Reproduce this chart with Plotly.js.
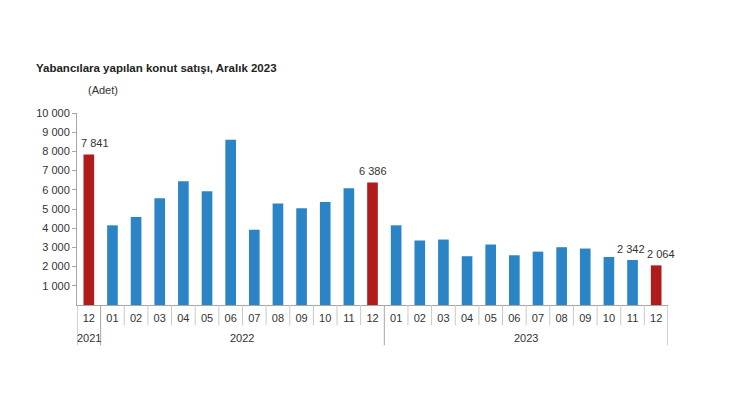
<!DOCTYPE html>
<html>
<head>
<meta charset="utf-8">
<script src="https://cdn.plot.ly/plotly-3.0.1.min.js"></script>
<style>
  html, body { margin: 0; padding: 0; background: #fff; }
  #chart { width: 730px; height: 420px; }
</style>
</head>
<body>
<div id="chart"></div>
<script>
// Foreign housing sales, monthly (Adet)
const years = ['2021',
  '2022', '2022', '2022', '2022', '2022', '2022', '2022', '2022', '2022', '2022', '2022', '2022',
  '2023', '2023', '2023', '2023', '2023', '2023', '2023', '2023', '2023', '2023', '2023', '2023'];
const months = ['12',
  '01', '02', '03', '04', '05', '06', '07', '08', '09', '10', '11', '12',
  '01', '02', '03', '04', '05', '06', '07', '08', '09', '10', '11', '12'];
const sales = [7841,
  4150, 4580, 5560, 6450, 5930, 8610, 3920, 5290, 5040, 5360, 6080, 6386,
  4150, 3360, 3410, 2540, 3150, 2590, 2780, 3010, 2940, 2500, 2342, 2064];
// bars that carry a value label
const labelled = [0, 12, 23, 24];
const yTicks = [1000, 2000, 3000, 4000, 5000, 6000, 7000, 8000, 9000, 10000];

const BLUE = '#2b84c6';
const RED = '#b01c1c';
const AXIS = '#a6a6a6';
const FONT = 'Liberation Sans, Arial, sans-serif';
// small sideways nudges so neighbouring labels don't collide
const LABEL_NUDGE = { 0: 6, 12: 0, 23: -2, 24: 5 };

const keys = years.map((y, i) => y + '-' + months[i]);
const colors = months.map(m => m === '12' ? RED : BLUE);
const fmt = v => String(v).replace(/\B(?=(\d{3})+(?!\d))/g, ' ');

// two-level x axis: short separators between months, long ones between years
const shapes = [];
for (let i = 0; i <= keys.length; i++) {
  const yearEdge = i === 0 || i === keys.length || years[i] !== years[i - 1];
  shapes.push({
    type: 'line', xref: 'x', yref: 'paper',
    x0: i - 0.5, x1: i - 0.5, y0: 0, y1: yearEdge ? -0.21 : -0.105,
    line: { color: yearEdge ? AXIS : '#c8c8c8', width: 1 },
  });
}

// year labels centred under their group of months
const yearNames = [...new Set(years)];
const annotations = yearNames.map(y => {
  const first = years.indexOf(y), last = years.lastIndexOf(y);
  return {
    text: y, xref: 'x', yref: 'paper', x: (first + last) / 2, y: 0,
    yanchor: 'middle', yshift: -33, showarrow: false,
    font: { size: 11, color: '#333' },
  };
});

// value labels above the highlighted bars
labelled.forEach(i => {
  annotations.push({
    text: fmt(sales[i]), xref: 'x', yref: 'y', x: keys[i], y: sales[i],
    yanchor: 'bottom', yshift: 3, xshift: LABEL_NUDGE[i] || 0, showarrow: false,
    font: { size: 11, color: '#333' },
  });
});

annotations.push(
  { text: '<b>Yabancılara yapılan konut satışı, Aralık 2023</b>', xref: 'paper', yref: 'paper',
    x: -0.072, y: 1.0, xanchor: 'left', yanchor: 'bottom', yshift: 37, showarrow: false,
    font: { size: 11.5, color: '#222' } },
  { text: '(Adet)', xref: 'paper', yref: 'paper',
    x: 0.015, y: 1.0, xanchor: 'left', yanchor: 'bottom', yshift: 15, showarrow: false,
    font: { size: 11, color: '#333' } }
);

const trace = {
  type: 'bar',
  x: keys,
  y: sales,
  marker: { color: colors },
  hoverinfo: 'y',
};

const layout = {
  width: 730, height: 420,
  margin: { l: 77, r: 62, t: 113, b: 115 },
  paper_bgcolor: '#fff', plot_bgcolor: '#fff',
  font: { family: FONT, size: 11, color: '#333' },
  separators: ', ',
  bargap: 0.55,
  showlegend: false,
  xaxis: {
    type: 'category',
    range: [-0.5, keys.length - 0.5],
    tickvals: keys, ticktext: months,
    showline: true, linecolor: AXIS, linewidth: 1,
    ticks: '', ticklabelstandoff: 3,
    tickfont: { size: 11, color: '#333' },
    showgrid: false, zeroline: false,
  },
  yaxis: {
    range: [0, 10000],
    tickvals: yTicks,
    tickformat: ',d',
    showline: true, linecolor: AXIS, linewidth: 1,
    ticks: 'outside', ticklen: 4, tickcolor: AXIS,
    showgrid: false, zeroline: false,
    tickfont: { size: 11, color: '#333' },
  },
  shapes: shapes,
  annotations: annotations,
};

Plotly.newPlot('chart', [trace], layout, { displayModeBar: false, staticPlot: true });
</script>
</body>
</html>
